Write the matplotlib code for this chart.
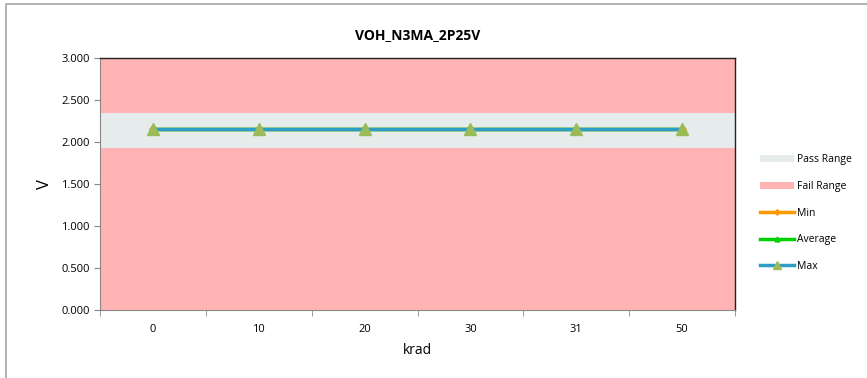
import matplotlib.pyplot as plt
import numpy as np

categories = ["0", "10", "20", "30", "31", "50"]
min_vals = [2.15, 2.15, 2.15, 2.15, 2.15, 2.15]
avg_vals = [2.15, 2.15, 2.15, 2.15, 2.15, 2.15]
max_vals = [2.15, 2.15, 2.15, 2.15, 2.15, 2.15]
pass_low = 1.93
pass_high = 2.345
y_max = 3.0

plt.rcParams['font.family'] = ['Open Sans', 'DejaVu Sans']

fig = plt.figure(figsize=(8.67, 3.78), dpi=100)
# outer chart border
fig.patches.append(plt.Rectangle((6 / 867, -0.1), 1.0, 1.09, transform=fig.transFigure,
                                 fill=False, edgecolor="#A6A6A6", linewidth=1.2))

ax = fig.add_axes([100 / 867, 1 - 310 / 378, 635 / 867, 252 / 378])
x = np.arange(len(categories))
edges = [-0.5, len(categories) - 0.5]

ax.fill_between(edges, 0, pass_low, color="#FFB3B3", linewidth=0, label="Fail Range")
ax.fill_between(edges, pass_high, y_max, color="#FFB3B3", linewidth=0)
ax.fill_between(edges, pass_low, pass_high, color="#E6ECEC", linewidth=0, label="Pass Range")

ax.plot(x, min_vals, color="#FF9900", linewidth=2.5, marker="D", markersize=4, label="Min")
ax.plot(x, avg_vals, color="#00D200", linewidth=2.5, marker="^", markersize=5, label="Average")
ax.plot(x, max_vals, color="#2E9FC4", linewidth=2.5, marker="^", markersize=9,
        markerfacecolor="#9BBB59", markeredgecolor="#9BBB59", label="Max")

ax.set_xlim(-0.5, len(categories) - 0.5)
ax.set_ylim(0, y_max)
ax.set_yticks(np.arange(0, 3.01, 0.5))
ax.set_yticklabels([f"{v:.3f}" for v in np.arange(0, 3.01, 0.5)], fontsize=8)
ax.set_xticks(x)
ax.set_xticklabels(categories, fontsize=8)
ax.set_xticks(np.arange(-0.5, len(categories), 1.0), minor=True)
ax.tick_params(axis="x", which="major", length=0, pad=10)
ax.tick_params(axis="x", which="minor", length=4, color="#888888")
ax.tick_params(axis="y", length=4, color="#888888")

ax.spines["left"].set_color("#888888")
ax.spines["bottom"].set_color("#888888")
ax.spines["top"].set_color("#222222")
ax.spines["right"].set_color("#222222")
ax.spines["top"].set_linewidth(1.0)
ax.spines["right"].set_linewidth(1.0)

ax.set_xlabel("krad", fontsize=10, labelpad=6)
ax.set_ylabel("V", fontsize=12, rotation=90, labelpad=6)
ax.set_title("VOH_N3MA_2P25V", fontsize=10, fontweight="bold", pad=14)

handles, labels = ax.get_legend_handles_labels()
order = ["Pass Range", "Fail Range", "Min", "Average", "Max"]
hmap = dict(zip(labels, handles))
fig.legend([hmap[k] for k in order], order, loc="upper left",
           bbox_to_anchor=(751 / 867, 1 - 145 / 378), frameon=False, fontsize=7.5,
           handlelength=3.2, labelspacing=1.5, handletextpad=0.3, markerscale=0.7)

fig.savefig("out.png", dpi=100)
